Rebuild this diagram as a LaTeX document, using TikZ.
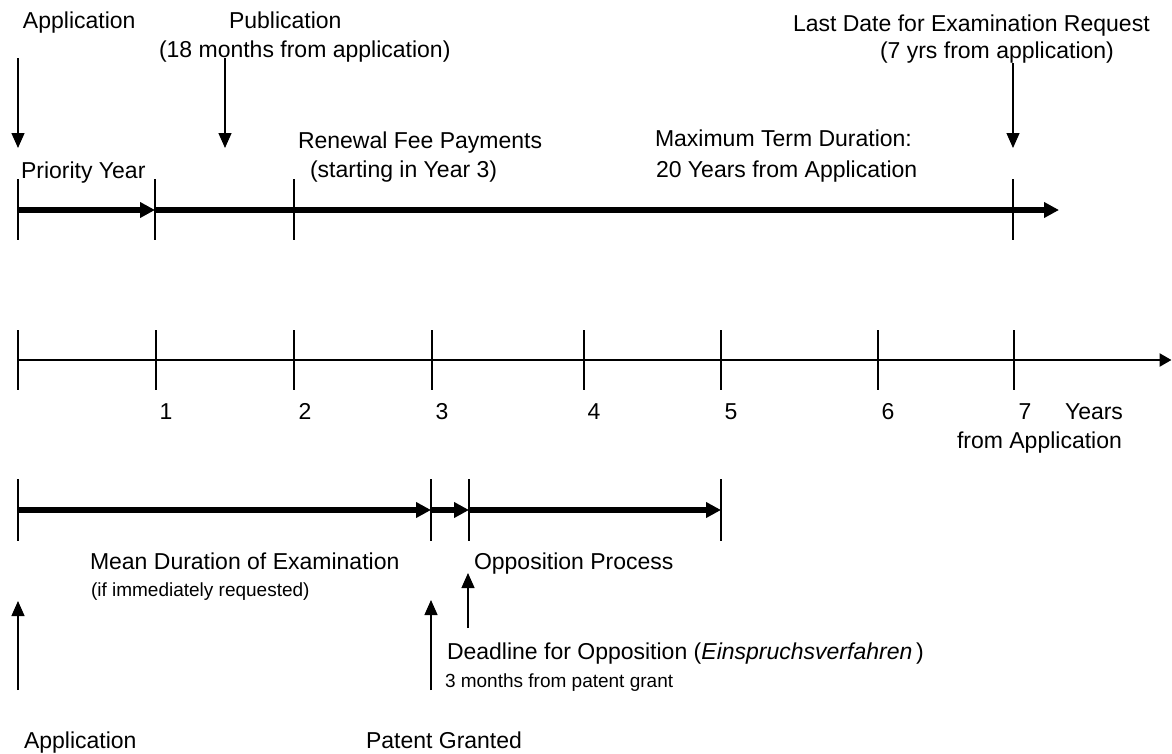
\documentclass[tikz,border=0pt]{standalone}
\usepackage{fontspec}
\setmainfont{Liberation Sans}
\usetikzlibrary{arrows.meta}
\begin{document}
\begin{tikzpicture}[x=1pt,y=-1pt,
  lbl/.style={inner sep=0pt,outer sep=0pt,anchor=base west,font=\fontsize{23}{29}\selectfont},
  small/.style={lbl,font=\fontsize{19}{23}\selectfont},
  num/.style={lbl,anchor=base},
  tick/.style={line width=2pt},
  thickarrow/.style={line width=6pt,-{Triangle[length=15pt,width=15pt]}},
  pointer/.style={line width=1.3pt,-{Triangle[length=15pt,width=13pt]}},
  axis/.style={line width=2.5pt,-{Triangle[length=12pt,width=13pt]}}]
\useasboundingbox (0,0) rectangle (1172,753);

% ---------- top row texts ----------
\node[lbl] (appTop) at (23,28.5) {Application};
\node[lbl] (pub1) at (229,28.5) {Publication};
\node[lbl] (pub2) at (159,57) {(18 months from application)};
\node[lbl] (last1) at (793,31) {Last Date for Examination Request};
\node[lbl] (last2) at (880,58) {(7 yrs from application)};
\node[lbl] (prio) at (21,178) {Priority Year};
\node[lbl] (ren1) at (298,148) {Renewal Fee Payments};
\node[lbl] (ren2) at (310,177) {(starting in Year 3)};
\node[lbl] (max1) at (655,146) {Maximum Term Duration:};
\node[lbl] (max2) at (656,177) {20 Years from Application};

% pointer coordinates (top)
\coordinate (pA0) at (18,58);   \coordinate (pA1) at (18,148);
\coordinate (pP0) at (225,58);  \coordinate (pP1) at (225,148);
\coordinate (pL0) at (1013,63); \coordinate (pL1) at (1013,148);
\draw[pointer] (pA0) -- (pA1);
\draw[pointer] (pP0) -- (pP1);
\draw[pointer] (pL0) -- (pL1);

% top timeline
\coordinate (T0) at (18,210);
\coordinate (T1) at (155,210);
\coordinate (Tend) at (1059,210);
\draw[thickarrow] (T0) -- (T1);
\draw[thickarrow] (T1) -- (Tend);
\foreach \x/\n in {18/a,155/b,294/c,1013/d}{
  \coordinate (tt\n) at (\x,179); \coordinate (tb\n) at (\x,240);
  \draw[tick] (tt\n) -- (tb\n);
}

% ---------- middle axis ----------
\coordinate (M0) at (18,360);
\coordinate (Mend) at (1171.5,360);
\draw[axis] (M0) -- (Mend);
\foreach \x/\n in {18/0,155.7/1,294/2,431.7/3,583.6/4,720.7/5,878/6,1014/7}{
  \coordinate (mt\n) at (\x,330); \coordinate (mb\n) at (\x,390);
  \draw[tick] (mt\n) -- (mb\n);
}
\node[num] (y1) at (166,419) {1};
\node[num] (y2) at (305,419) {2};
\node[num] (y3) at (442,419) {3};
\node[num] (y4) at (594,419) {4};
\node[num] (y5) at (731,419) {5};
\node[num] (y6) at (888,419) {6};
\node[num] (y7) at (1025,419) {7};
\node[lbl] (years) at (1065,419) {Years};
\node[lbl] (fromapp) at (957,448) {from Application};

% ---------- bottom timeline ----------
\coordinate (B0) at (18,510);
\coordinate (B1) at (431,510);
\coordinate (B2) at (469,510);
\coordinate (B3) at (721,510);
\draw[thickarrow] (B0) -- (B1);
\draw[thickarrow] (B1) -- (B2);
\draw[thickarrow] (B2) -- (B3);
\foreach \x/\n in {18/a,431/b,469/c,721/d}{
  \coordinate (bt\n) at (\x,479); \coordinate (bb\n) at (\x,541);
  \draw[tick] (bt\n) -- (bb\n);
}

\node[lbl] (mean) at (90,569) {Mean Duration of Examination};
\node[small] (ifimm) at (91,596) {(if immediately requested)};
\node[lbl] (opp) at (474,569) {Opposition Process};
\node[lbl] (dead) at (447,659) {Deadline for Opposition (\textit{Einspruchsverfahren}\,)};
\node[small] (three) at (445,687) {3 months from patent grant};
\node[lbl] (appBot) at (24,748) {Application};
\node[lbl] (patent) at (366,748) {Patent Granted};

% bottom pointers
\coordinate (uA0) at (18,690);  \coordinate (uA1) at (18,601);
\coordinate (uG0) at (431,690); \coordinate (uG1) at (431,600);
\coordinate (uD0) at (468,628); \coordinate (uD1) at (468,573);
\draw[pointer] (uA0) -- (uA1);
\draw[pointer] (uG0) -- (uG1);
\draw[pointer] (uD0) -- (uD1);
\end{tikzpicture}
\end{document}
